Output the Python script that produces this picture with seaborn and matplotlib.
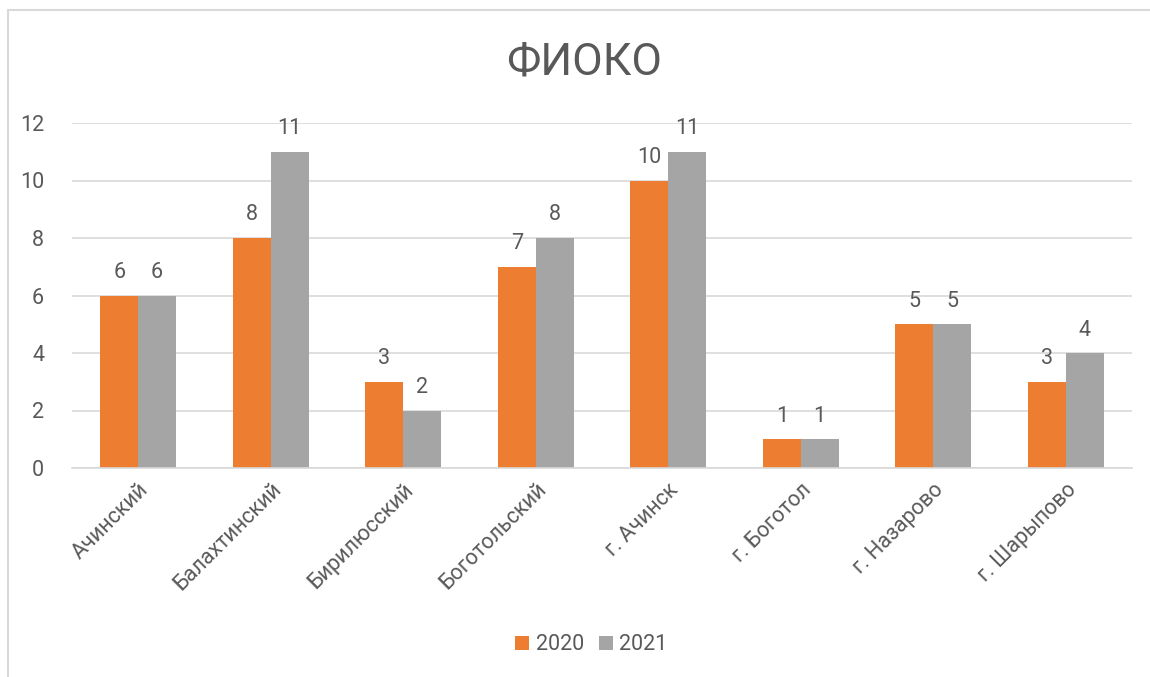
import pandas as pd
import matplotlib.pyplot as plt
import seaborn as sns
from matplotlib.patches import Rectangle

sns.set_theme(style="white")
plt.rcParams['font.family'] = ['Roboto', 'DejaVu Sans']

districts = ["Ачинский", "Балахтинский", "Бирилюсский", "Боготольский",
             "г. Ачинск", "г. Боготол", "г. Назарово", "г. Шарыпово"]
y2020 = [6, 8, 3, 7, 10, 1, 5, 3]
y2021 = [6, 11, 2, 8, 11, 1, 5, 4]
years = ["2020", "2021"]

df = pd.DataFrame({
    "district": districts * 2,
    "year": [years[0]] * len(districts) + [years[1]] * len(districts),
    "value": y2020 + y2021,
})

txt = "#595959"
grid = "#D9D9D9"
pal = {"2020": "#ED7D31", "2021": "#A5A5A5"}

fig = plt.figure(figsize=(11.5, 6.77), dpi=100)
ax = fig.add_axes([72 / 1150, 1 - 468 / 677, 1060 / 1150, 345 / 677])

sns.barplot(data=df, x="district", y="value", hue="year", palette=pal,
            width=0.57, saturation=1, linewidth=0, ax=ax, legend=True)

ax.set_ylim(0, 12)
ax.set_yticks(range(0, 13, 2))
ax.yaxis.grid(True, color=grid, lw=1.2)
ax.set_axisbelow(True)
for s in ["top", "right", "left"]:
    ax.spines[s].set_visible(False)
ax.spines["bottom"].set_color(grid)
ax.spines["bottom"].set_linewidth(1.2)
ax.tick_params(axis="both", length=0, labelsize=15.5, colors=txt)
ax.tick_params(axis="y", pad=20)
ax.tick_params(axis="x", pad=8)
ax.set_xlabel("")
ax.set_ylabel("")
plt.setp(ax.get_xticklabels(), rotation=45, ha="right", rotation_mode="anchor")

for c in ax.containers:
    ax.bar_label(c, labels=[f"{v:.0f}" for v in c.datavalues],
                 padding=9, fontsize=15.5, color=txt)

ax.legend(loc="center", bbox_to_anchor=(0.49, (645 - 468) / -345), ncol=2,
          frameon=False, fontsize=15.5, labelcolor=txt, handlelength=0.65,
          handleheight=0.65, handletextpad=0.3, columnspacing=0.7)

fig.text(0.508, 1 - 62 / 677, "ФИОКО", ha="center", va="center",
         fontsize=32, color=txt)

fig.patches.append(Rectangle((8 / 1150, -0.1), 1.2, 1 - 10 / 677 + 0.1,
                             transform=fig.transFigure, fill=False,
                             edgecolor=grid, lw=1.5))

fig.savefig("out.png", dpi=100, facecolor="white")
